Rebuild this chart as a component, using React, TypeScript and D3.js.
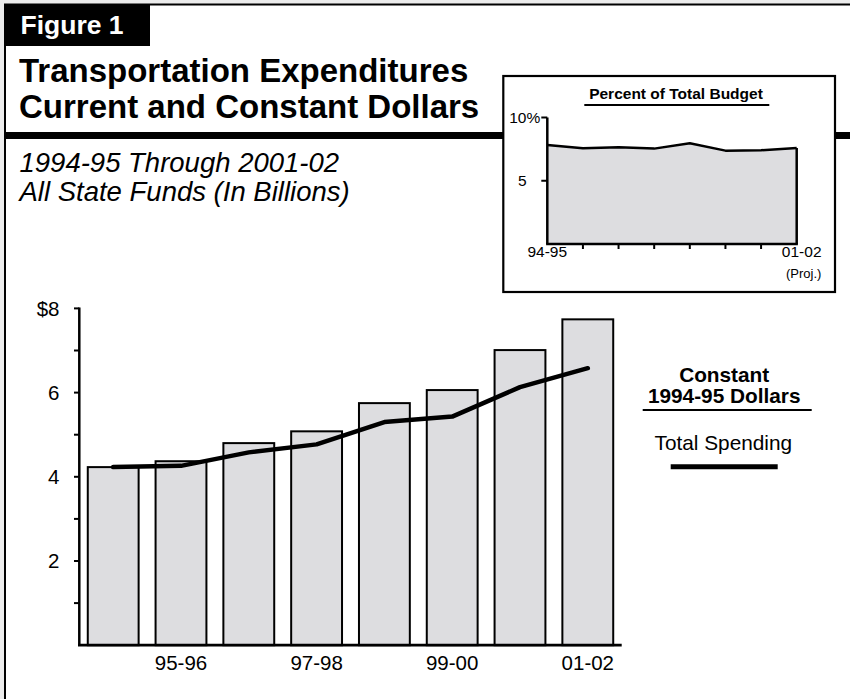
import React from "react";
import * as d3 from "d3";

// ---- Data ----
const years = ["94-95", "95-96", "96-97", "97-98", "98-99", "99-00", "00-01", "01-02"];
const currentDollars = [4.23, 4.37, 4.8, 5.08, 5.75, 6.06, 7.01, 7.74];
const constantDollars = [4.23, 4.26, 4.58, 4.77, 5.3, 5.43, 6.13, 6.58];
const pctOfBudget = [7.83, 7.57, 7.65, 7.54, 7.96, 7.38, 7.41, 7.59];
const yTicksMajor = [2, 4, 6, 8];
const yTicksMinor = [1, 3, 5, 7];
const yTickLabels = ["2", "4", "6", "$8"];
const xLabelYears = ["95-96", "97-98", "99-00", "01-02"];
const insetTicks = [5, 10];
const insetTickLabels = ["5", "10"];

const FONT = "'Liberation Sans', Arial, Helvetica, sans-serif";
const BAR_FILL = "#dddde0";

export default function App() {
  const W = 850;
  const H = 699;

  // main chart scales
  const x = d3.scaleBand<string>().domain(years).range([79.3, 621.7]).paddingInner(0.25).paddingOuter(0.125);
  const y = d3.scaleLinear().domain([0, 8]).range([645.2, 308.4]);
  const line = d3
    .line<number>()
    .x((_, i) => (x(years[i]) as number) + x.bandwidth() / 2)
    .y((d) => y(d))
    .curve(d3.curveLinear);

  // inset scales
  const ix = d3.scalePoint<string>().domain(years).range([547.3, 796.7]);
  const iy = d3.scaleLinear().domain([0, 10]).range([244, 117.5]);
  const area = d3
    .area<number>()
    .x((_, i) => ix(years[i]) as number)
    .y0(iy(0))
    .y1((d) => iy(d));
  const iline = d3
    .line<number>()
    .x((_, i) => ix(years[i]) as number)
    .y((d) => iy(d));
  const lastX = ix(years[years.length - 1]) as number;

  return (
    <svg
      width={W}
      height={H}
      style={{ position: "absolute", left: 0, top: 0, fontFamily: FONT }}
    >
      <rect x={0} y={0} width={W} height={H} fill="#ececec" />
      <rect x={5} y={4.5} width={W + 20} height={H + 20} fill="#fff" stroke="#000" strokeWidth={2} />

      {/* Figure tab */}
      <rect x={5} y={4.5} width={145} height={41.5} fill="#000" />
      <text x={20.5} y={33.5} fill="#fff" fontSize={26.5} fontWeight="bold">
        Figure 1
      </text>

      {/* Title */}
      <text x={19} y={82} fontSize={33} fontWeight="bold" fill="#000">
        Transportation Expenditures
      </text>
      <text x={19} y={118} fontSize={33} fontWeight="bold" fill="#000">
        Current and Constant Dollars
      </text>
      <rect x={5} y={132} width={W} height={7} fill="#000" />

      {/* Subtitle */}
      <text x={19.5} y={172} fontSize={27.5} fontStyle="italic" fill="#000">
        1994-95 Through 2001-02
      </text>
      <text x={19.5} y={201} fontSize={27.5} fontStyle="italic" fill="#000">
        All State Funds (In Billions)
      </text>

      {/* Inset */}
      <rect x={503.3} y={76} width={331.7} height={216} fill="#fff" stroke="#000" strokeWidth={2.2} />
      <text x={676} y={99.3} fontSize={15.5} fontWeight="bold" textAnchor="middle">
        Percent of Total Budget
      </text>
      <line x1={584.3} x2={769.3} y1={105} y2={105} stroke="#000" strokeWidth={2} />
      <path d={area(pctOfBudget) ?? ""} fill={BAR_FILL} />
      <path d={iline(pctOfBudget) ?? ""} fill="none" stroke="#000" strokeWidth={2.5} strokeLinejoin="round" />
      <line x1={lastX} x2={lastX} y1={iy(pctOfBudget[pctOfBudget.length - 1])} y2={iy(0)} stroke="#000" strokeWidth={2.5} />
      {/* inset axes */}
      <line x1={ix(years[0])} x2={ix(years[0])} y1={iy(10)} y2={iy(0)} stroke="#000" strokeWidth={2.5} />
      <line x1={ix(years[0]) as number - 1.2} x2={lastX + 1.2} y1={iy(0)} y2={iy(0)} stroke="#000" strokeWidth={2.5} />
      {years.slice(1, -1).map((yr) => (
        <line key={yr} x1={ix(yr)} x2={ix(yr)} y1={iy(0)} y2={iy(0) + 5} stroke="#000" strokeWidth={2} />
      ))}
      {insetTicks.map((t, i) => (
        <g key={t}>
          <line x1={(ix(years[0]) as number) - 6} x2={ix(years[0])} y1={iy(t)} y2={iy(t)} stroke="#000" strokeWidth={2} />
          <text x={526.5} y={iy(t)} dy="0.35em" fontSize={15.5} textAnchor="end">
            {insetTickLabels[i]}
          </text>
          {t === 10 && (
            <text x={526.5} y={iy(t)} dy="0.35em" fontSize={15.5} textAnchor="start">
              %
            </text>
          )}
        </g>
      ))}
      <text x={ix(years[0])} y={256.7} fontSize={15.5} textAnchor="middle">
        94-95
      </text>
      <text x={lastX + 5} y={256.7} fontSize={15.5} textAnchor="middle">
        01-02
      </text>
      <text x={lastX + 7} y={278.3} fontSize={13} textAnchor="middle">
        (Proj.)
      </text>

      {/* Main chart bars */}
      {currentDollars.map((v, i) => (
        <rect
          key={years[i]}
          x={x(years[i])}
          y={y(v)}
          width={x.bandwidth()}
          height={y(0) - y(v)}
          fill={BAR_FILL}
          stroke="#000"
          strokeWidth={2}
        />
      ))}
      {/* axes */}
      <line x1={79.3} x2={79.3} y1={y(8) - 1} y2={y(0)} stroke="#000" strokeWidth={2.5} />
      <line x1={78} x2={621.7} y1={y(0)} y2={y(0)} stroke="#000" strokeWidth={2.7} />
      {[...yTicksMajor, ...yTicksMinor].map((t) => (
        <line key={t} x1={74} x2={79.3} y1={y(t)} y2={y(t)} stroke="#000" strokeWidth={2} />
      ))}
      {yTicksMajor.map((t, i) => (
        <text key={t} x={59.5} y={y(t)} dy="0.35em" fontSize={20.5} textAnchor="end">
          {yTickLabels[i]}
        </text>
      ))}
      {xLabelYears.map((yr) => (
        <text key={yr} x={(x(yr) as number) + x.bandwidth() / 2} y={670} fontSize={20.5} textAnchor="middle">
          {yr}
        </text>
      ))}

      {/* constant dollars line */}
      <path d={line(constantDollars) ?? ""} fill="none" stroke="#000" strokeWidth={4.5} strokeLinejoin="round" strokeLinecap="round" />

      {/* Legend */}
      <text x={724.2} y={381.7} fontSize={20.8} fontWeight="bold" textAnchor="middle">
        Constant
      </text>
      <text x={724.2} y={403.3} fontSize={20.8} fontWeight="bold" textAnchor="middle">
        1994-95 Dollars
      </text>
      <line x1={642.7} x2={811.7} y1={410} y2={410} stroke="#000" strokeWidth={2} />
      <text x={723.3} y={450} fontSize={20.8} textAnchor="middle">
        Total Spending
      </text>
      <line x1={670.7} x2={777.7} y1={466.7} y2={466.7} stroke="#000" strokeWidth={5} />
    </svg>
  );
}
